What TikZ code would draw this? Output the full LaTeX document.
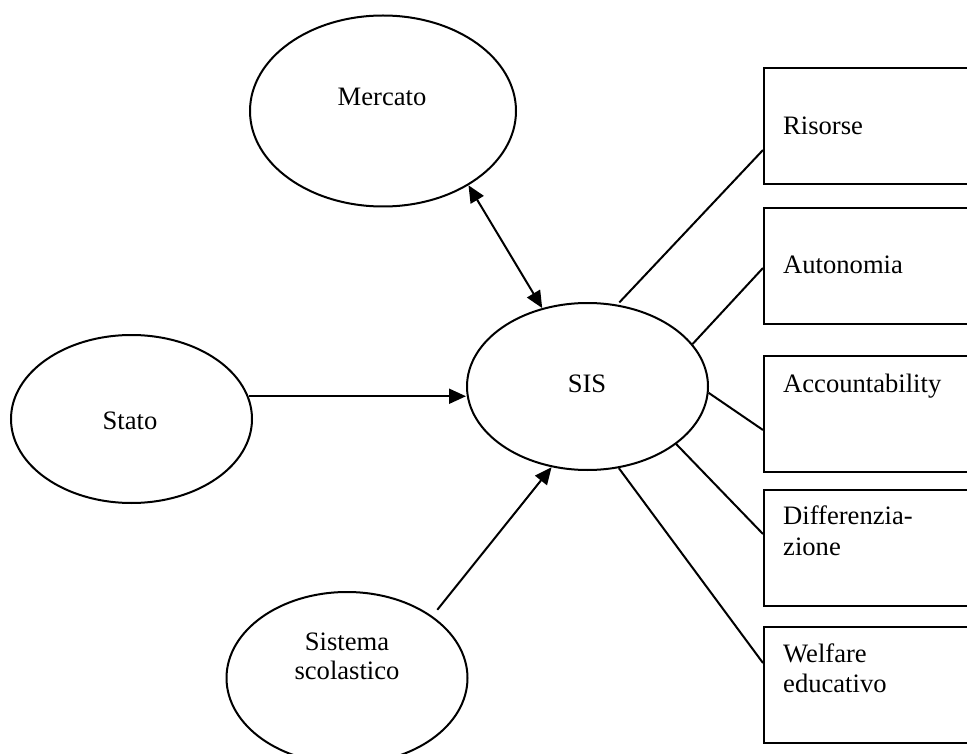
\documentclass[tikz,border=0pt]{standalone}
\usepackage{fontspec}
\setmainfont{Liberation Serif}
\usetikzlibrary{shapes.geometric,arrows.meta,calc}
\begin{document}
\begin{tikzpicture}[x=1pt,y=-1pt,
  lw/.style={line width=2pt},
  ell/.style={draw,ellipse,lw,inner sep=0pt},
  boxn/.style={draw,lw,rectangle,anchor=north west,minimum width=260pt,minimum height=116pt,inner sep=0pt},
  lbl/.style={font=\fontsize{26.6}{30}\selectfont,inner sep=0pt},
  con/.style={lw},
  arr/.style={lw,-{Triangle[length=17pt,width=15pt]}},
  biarr/.style={lw,{Triangle[length=17pt,width=15pt]}-{Triangle[length=17pt,width=15pt]}},
  ]
\useasboundingbox (0,0) rectangle (967,754);
\clip (0,0) rectangle (967,754);
\fill[white] (0,0) rectangle (967,754);

% ellipses
\node[ell,minimum width=266pt,minimum height=191pt] (mercato) at (383,111) {};
\node[ell,minimum width=241pt,minimum height=168pt] (stato) at (131.5,419) {};
\node[ell,minimum width=241pt,minimum height=167pt] (sis) at (587.5,386.5) {};
\node[ell,minimum width=241pt,minimum height=172pt] (sistema) at (347,678) {};

% ellipse labels
\node[lbl,anchor=base] (tmercato) at (382,106) {Mercato};
\node[lbl,anchor=base] (tstato) at (130,429) {Stato};
\node[lbl,anchor=base] (tsis) at (587,392) {SIS};
\node[lbl,anchor=base] (tsist1) at (347,650) {Sistema};
\node[lbl,anchor=base] (tsist2) at (347,679) {scolastico};

% boxes
\node[boxn] (b1) at (763,67) {};
\node[boxn] (b2) at (763,207) {};
\node[boxn] (b3) at (763,355) {};
\node[boxn] (b4) at (763,489) {};
\node[boxn] (b5) at (763,626) {};

% box labels
\node[lbl,anchor=base west] (t1) at (783,135) {Risorse};
\node[lbl,anchor=base west] (t2) at (783,273) {Autonomia};
\node[lbl,anchor=base west] (t3) at (783,392) {Accountability};
\node[lbl,anchor=base west] (t4a) at (783,524) {Differenzia-};
\node[lbl,anchor=base west] (t4b) at (783,555) {zione};
\node[lbl,anchor=base west] (t5a) at (783,662) {Welfare};
\node[lbl,anchor=base west] (t5b) at (783,692) {educativo};

% box connection points
\coordinate (p1) at ($(b1.north west)+(0,83)$);
\coordinate (p2) at ($(b2.north west)+(0,61)$);
\coordinate (p3) at ($(b3.north west)+(0,75)$);
\coordinate (p4) at ($(b4.north west)+(0,45)$);
\coordinate (p5) at ($(b5.north west)+(0,37)$);

% lines SIS -> boxes
\draw[con,shorten <=3pt] (sis.70) -- (p1);
\draw[con] (sis.22) -- (p2);
\draw[con] (sis.-3) -- (p3);
\draw[con] (sis.-33) -- (p4);
\draw[con] (sis.-69) -- (p5);

% arrows
\draw[biarr] (mercato.-41) -- (sis.120.5);
\draw[arr] (stato.11) -- (stato.11 -| sis.west);
\draw[arr,shorten <=8pt] (sistema.36) -- (sis.246);
\end{tikzpicture}
\end{document}
